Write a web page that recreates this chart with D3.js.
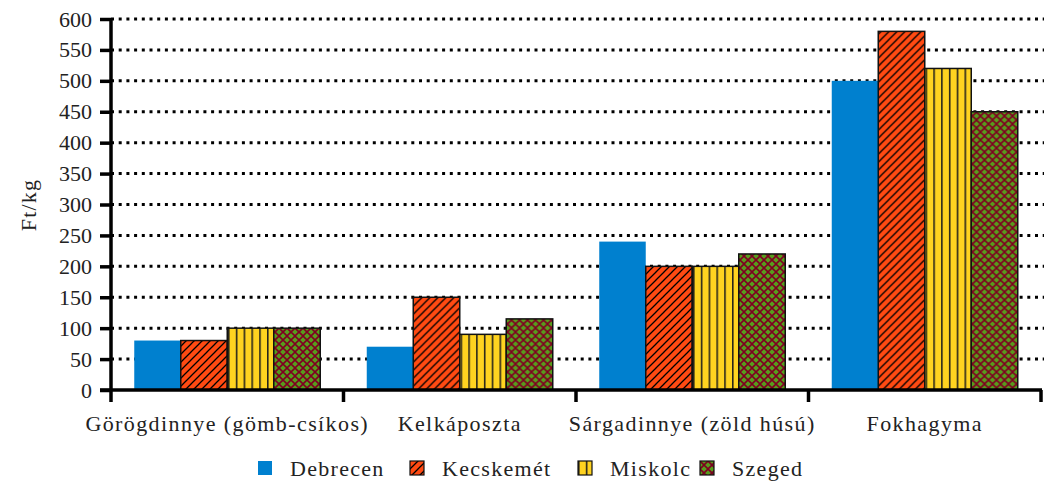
<!DOCTYPE html>
<html>
<head>
<meta charset="utf-8">
<script src="https://cdn.jsdelivr.net/npm/d3@7"></script>
<style>
  html, body { margin: 0; padding: 0; background: #fff; }
  svg { display: block; }
</style>
</head>
<body>
<svg id="chart" width="1044" height="485"></svg>
<script>
// data
const categories = ['Görögdinnye (gömb-csíkos)', 'Kelkáposzta', 'Sárgadinnye (zöld húsú)', 'Fokhagyma'];
const cities = ['Debrecen', 'Kecskemét', 'Miskolc', 'Szeged'];
const debrecen = [80, 70, 240, 500];
const kecskemet = [80, 150, 200, 580];
const miskolc = [100, 90, 200, 520];
const szeged = [100, 115, 220, 450];
const yTicks = [0, 50, 100, 150, 200, 250, 300, 350, 400, 450, 500, 550, 600];

const seriesValues = [debrecen, kecskemet, miskolc, szeged];
const fills = ['#0080cf', 'url(#pOrange)', 'url(#pYellow)', 'url(#pGreen)'];
const FONT = '"Liberation Serif", "Times New Roman", serif';

const dims = { left: 111, right: 1041, top: 19, bottom: 390 };

const svg = d3.select('#chart');
const defs = svg.append('defs');

// diagonal stripes on orange
const po = defs.append('pattern').attr('id', 'pOrange').attr('patternUnits', 'userSpaceOnUse')
  .attr('width', 8).attr('height', 8);
po.append('rect').attr('width', 8).attr('height', 8).attr('fill', '#ff4a12');
po.append('path').attr('d', 'M-2,10 L10,-2 M-2,2 L2,-2 M6,10 L10,6')
  .attr('stroke', '#000').attr('stroke-width', 1.3);

// vertical stripes on yellow
const py = defs.append('pattern').attr('id', 'pYellow').attr('patternUnits', 'userSpaceOnUse')
  .attr('width', 7.8).attr('height', 8);
py.append('rect').attr('width', 7.8).attr('height', 8).attr('fill', '#ffd320');
py.append('line').attr('x1', 0.8).attr('x2', 0.8).attr('y1', 0).attr('y2', 8)
  .attr('stroke', '#1a1a1a').attr('stroke-width', 1.5);

// lattice on green
const pg = defs.append('pattern').attr('id', 'pGreen').attr('patternUnits', 'userSpaceOnUse')
  .attr('width', 8).attr('height', 8);
pg.append('rect').attr('width', 8).attr('height', 8).attr('fill', '#579d1c');
pg.append('path').attr('d', 'M0,0 L8,8 M8,0 L0,8')
  .attr('stroke', '#7e0021').attr('stroke-width', 1.6);

const x0 = d3.scaleBand().domain(categories).range([dims.left, dims.right]).paddingInner(0).paddingOuter(0);
const x1 = d3.scaleBand().domain(cities).range([0, x0.bandwidth()]).paddingInner(0).paddingOuter(0.5);
const y = d3.scaleLinear().domain([0, 600]).range([dims.bottom, dims.top]);

// grid
svg.append('g').selectAll('line').data(yTicks.filter(d => d > 0)).join('line')
  .attr('x1', dims.left).attr('x2', dims.right + 3)
  .attr('y1', d => y(d)).attr('y2', d => y(d))
  .attr('stroke', '#000').attr('stroke-width', 3).attr('stroke-dasharray', '3,4.7');

// bars
const groups = svg.append('g').selectAll('g').data(categories).join('g')
  .attr('transform', d => `translate(${x0(d)},0)`);
groups.selectAll('rect').data((c, i) => cities.map((s, j) => ({ s, j, v: seriesValues[j][i] })))
  .join('rect')
  .attr('x', d => x1(d.s))
  .attr('width', x1.bandwidth())
  .attr('y', d => y(d.v))
  .attr('height', d => y(0) - y(d.v))
  .attr('fill', d => fills[d.j])
  .attr('stroke', d => d.j === 0 ? 'none' : '#111')
  .attr('stroke-width', 1.5);

// y axis
const yAxis = svg.append('g').attr('transform', `translate(${dims.left},0)`)
  .call(d3.axisLeft(y).tickValues(yTicks).tickSize(11).tickPadding(8));
yAxis.select('.domain').attr('stroke-width', 3.5).attr('d', `M0,${dims.top - 1}V${dims.bottom + 12}`);
yAxis.selectAll('.tick line').attr('stroke-width', 3.5);
yAxis.selectAll('text').attr('font-size', 22).attr('fill', '#222').attr('font-family', FONT);

// x axis
const xAxis = svg.append('g').attr('transform', `translate(0,${dims.bottom})`);
xAxis.append('line').attr('x1', dims.left - 11).attr('x2', dims.right + 1)
  .attr('y1', 0).attr('y2', 0).attr('stroke', '#000').attr('stroke-width', 3.5);
xAxis.selectAll('line.tk').data(categories).join('line').attr('class', 'tk')
  .attr('x1', d => x0(d) + x0.bandwidth())
  .attr('x2', d => x0(d) + x0.bandwidth())
  .attr('y1', 0).attr('y2', 12).attr('stroke', '#000').attr('stroke-width', 3.5);
xAxis.selectAll('text').data(categories).join('text')
  .attr('x', d => x0(d) + x0.bandwidth() / 2)
  .attr('y', 41)
  .attr('text-anchor', 'middle')
  .attr('font-family', FONT)
  .attr('font-size', 22).attr('letter-spacing', 1.4).attr('fill', '#222')
  .text(d => d);

// y title
svg.append('text').attr('transform', 'translate(36,205) rotate(-90)')
  .attr('text-anchor', 'middle').attr('font-family', FONT)
  .attr('font-size', 22).attr('letter-spacing', 1.2).attr('fill', '#222').text('Ft/kg');

// legend
const legendX = [258, 410, 578, 700];
const leg = svg.append('g').selectAll('g').data(cities).join('g')
  .attr('transform', (d, i) => `translate(${legendX[i]},461)`);
leg.append('rect').attr('width', 14).attr('height', 14)
  .attr('fill', (d, i) => fills[i])
  .attr('stroke', (d, i) => i === 0 ? 'none' : '#111').attr('stroke-width', 1.2);
leg.append('text').attr('x', 32).attr('y', 15).attr('font-family', FONT)
  .attr('font-size', 22).attr('letter-spacing', 1.3).attr('fill', '#222').text(d => d);
</script>
</body>
</html>
